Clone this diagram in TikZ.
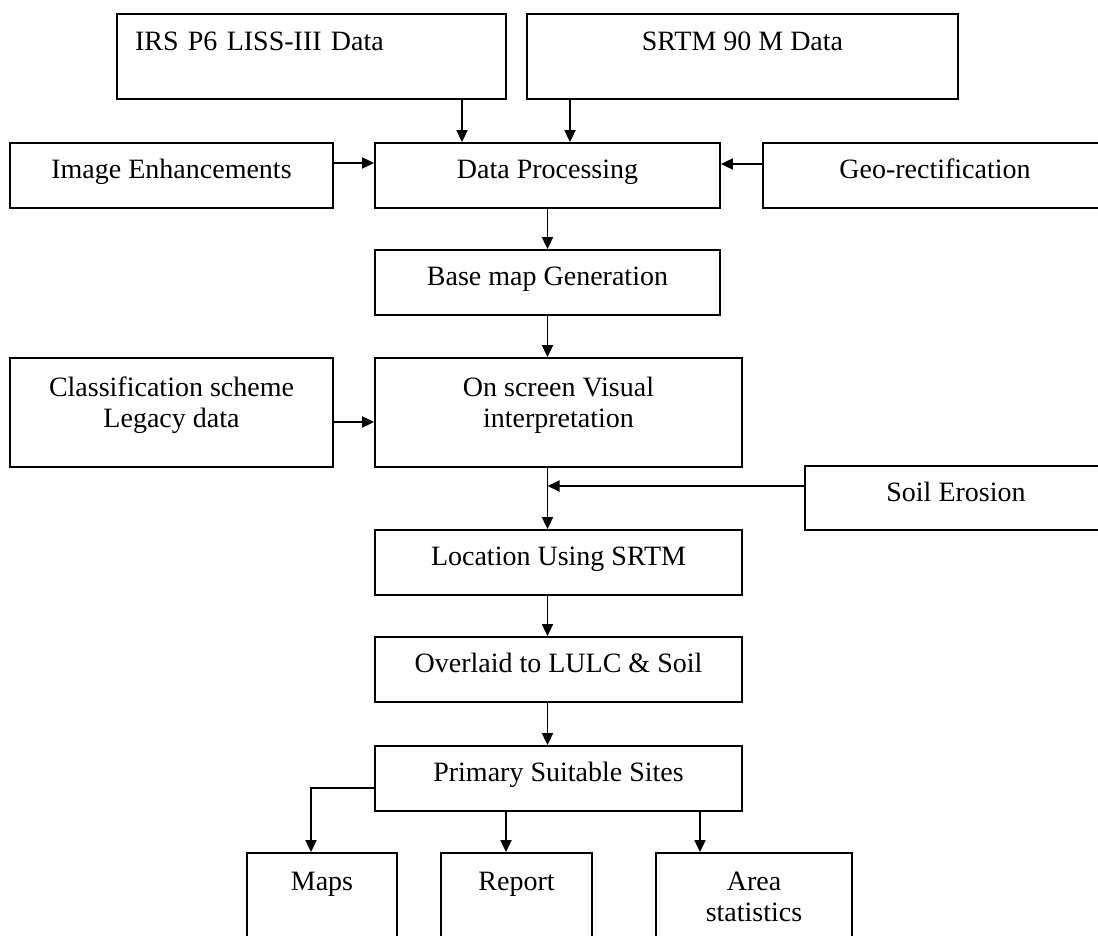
\documentclass[tikz,border=0pt]{standalone}
\usepackage{fontspec}
\setmainfont{Liberation Serif}
\usetikzlibrary{arrows.meta,calc}
\begin{document}
\begin{tikzpicture}[x=1pt,y=-1pt,
  box/.style={draw=black, line width=1.8pt, rectangle, inner sep=0pt, align=center,
    font=\fontsize{28}{31}\selectfont},
  onebox/.style={box, text height=18pt, text depth=12pt},
  txt/.style={inner sep=0pt, align=center, font=\fontsize{28}{31}\selectfont},
  arr/.style={line width=1.8pt, -{Triangle[width=11pt,length=12pt]}},
]
\useasboundingbox (0,0) rectangle (1098,936);
\clip (0,0) rectangle (1098,936);

% top row
\node[box, minimum width=389pt, minimum height=85pt, text width=353pt, align=left] (irs) at (311.5,56.5) {IRS P6 LISS-III Data\\ ~};
\node[box, minimum width=431pt, minimum height=85pt] (srtm) at (742.5,56.5) {SRTM 90 M Data\\ ~};

% second row
\node[onebox, minimum width=323pt, minimum height=65pt] (ie) at (171.5,175.5) {Image Enhancements};
\node[onebox, minimum width=345pt, minimum height=65pt] (dp) at (547.5,175.5) {Data Processing};
\node[onebox, minimum width=344pt, minimum height=65pt] (geo) at (935,175.5) {Geo-rectification};

% base map
\node[onebox, minimum width=345pt, minimum height=65pt] (base) at (547.5,282.5) {Base map Generation};

% interpretation row
\node[box, minimum width=323pt, minimum height=109pt] (cls) at (171.5,412.5) {};
\node[txt] (clst) at ($(cls.center)+(0,-7)$) {Classification scheme\\ Legacy data};
\node[box, minimum width=367pt, minimum height=109pt] (osvi) at (558.5,412.5) {};
\node[txt] (osvit) at ($(osvi.center)+(0,-7)$) {On screen Visual\\ interpretation};

% soil erosion
\node[onebox, minimum width=302pt, minimum height=64pt] (soil) at (956,498) {Soil Erosion};

% main column
\node[onebox, minimum width=367pt, minimum height=65pt] (loc) at (558.5,562.5) {Location Using SRTM};
\node[onebox, minimum width=367pt, minimum height=65pt] (over) at (558.5,669.5) {Overlaid to LULC \& Soil};
\node[onebox, minimum width=367pt, minimum height=65pt] (prim) at (558.5,778.5) {Primary Suitable Sites};

% outputs
\node[box, minimum width=150pt, minimum height=87pt] (maps) at (322,896.5) {Maps\\ ~};
\node[box, minimum width=151pt, minimum height=87pt] (rep) at (516.5,896.5) {Report\\ ~};
\node[box, minimum width=196pt, minimum height=87pt] (area) at (754,896.5) {Area\\ statistics};

% connectors
\draw[arr] (irs.south -| 462,0) -- (dp.north -| 462,0);
\draw[arr] (srtm.south -| 570,0) -- (dp.north -| 570,0);
\draw[arr] (ie.east |- 0,163) -- (dp.west |- 0,163);
\draw[arr] (geo.west |- 0,164) -- (dp.east |- 0,164);
\draw[arr] (dp.south -| base.south) -- (base.north);
\draw[arr] (base.south) -- (osvi.north -| base.south);
\draw[arr] (cls.east |- 0,422) -- (osvi.west |- 0,422);
\draw[arr] (osvi.south -| base.south) -- (loc.north -| base.south);
\draw[arr] (soil.west |- 0,486) -- (base.south |- 0,486);
\draw[arr] (loc.south -| base.south) -- (over.north -| base.south);
\draw[arr] (over.south -| base.south) -- (prim.north -| base.south);
\draw[arr] (prim.west |- 0,788) -| (maps.north -| 311,0);
\draw[arr] (prim.south -| 506,0) -- (rep.north -| 506,0);
\draw[arr] (prim.south -| 700,0) -- (area.north -| 700,0);
\end{tikzpicture}
\end{document}
